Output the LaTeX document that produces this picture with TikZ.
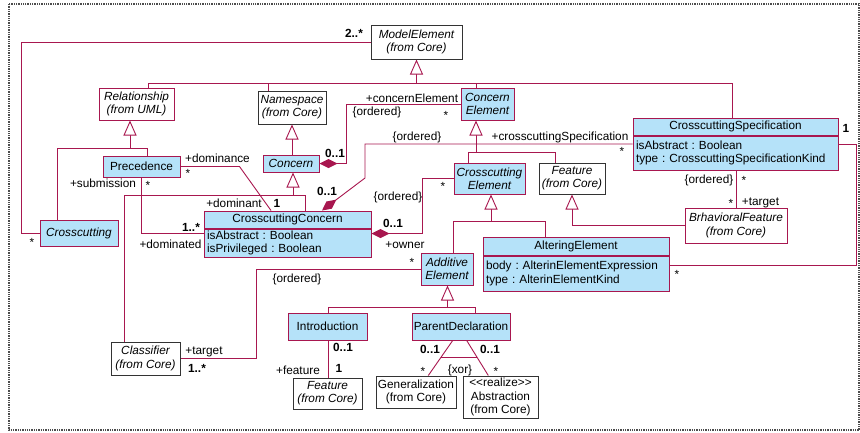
\documentclass[tikz,border=0pt]{standalone}
\usepackage{fontspec}
\setmainfont{Liberation Sans}
\usetikzlibrary{arrows.meta,positioning,calc}
\definecolor{crim}{HTML}{A8174F}
\definecolor{clsblue}{HTML}{B5E2F9}
\definecolor{coreline}{HTML}{333333}
\newcommand{\umlfont}{\fontsize{11.8}{13.2}\selectfont\frenchspacing}

\begin{document}
\begin{tikzpicture}[x=1pt,y=-1pt,
 ln/.style={crim,line width=0.9pt},
 gen/.style={ln,-{Triangle[open,length=15pt,width=13pt,fill=white]}},
 comp/.style={ln,-{Diamond[length=18pt,width=9pt,fill=crim]}},
 cls/.style={draw=crim,line width=1pt,fill=clsblue,inner sep=0pt,align=center,font=\umlfont},
 abst/.style={cls,font=\umlfont\itshape},
 core/.style={draw=coreline,line width=1pt,fill=white,inner sep=0pt,align=center,font=\umlfont\itshape},
 attrs/.style={cls,anchor=north,align=left,inner xsep=3pt},
 lab/.style={inner sep=0pt,text height=8.5pt,text depth=2.5pt,font=\umlfont,yshift=-1.5pt},
 mult/.style={lab,font=\umlfont\bfseries},
 star/.style={lab,yshift=-2.2pt}]
\useasboundingbox (0,0) rectangle (860,432);
\draw[black!70,densely dotted,line width=1.3pt] (9,4) rectangle (859,430);

% classes
\node[core,minimum width=91pt,minimum height=34pt] (ModelElement) at (416.5,42) {ModelElement\\(from Core)};
\node[core,draw=crim,minimum width=75pt,minimum height=32pt] (Relationship) at (136.5,104) {Relationship\\(from UML)};
\node[core,minimum width=68pt,minimum height=33pt] (Namespace) at (292,107.5) {Namespace\\(from Core)};
\node[abst,minimum width=53pt,minimum height=32pt] (ConcernElement) at (487.5,104) {Concern\\Element};
\node[cls,minimum width=205pt,minimum height=17pt] (CrosscuttingSpec) at (735.5,126.5) {CrosscuttingSpecification};
\node[attrs,text width=199pt,minimum height=34pt] (CrosscuttingSpecAttr) at (CrosscuttingSpec.south) {isAbstract : Boolean\\type : CrosscuttingSpecificationKind};
\node[cls,minimum width=77pt,minimum height=21pt] (Precedence) at (141.5,166.5) {Precedence};
\node[abst,minimum width=56pt,minimum height=17pt] (Concern) at (291,163.5) {Concern};
\node[abst,minimum width=71pt,minimum height=31pt] (CrosscuttingElement) at (489.5,178.5) {Crosscutting\\Element};
\node[core,minimum width=66pt,minimum height=31pt] (FeatureTop) at (572,178.5) {Feature\\(from Core)};
\node[core,draw=crim,minimum width=102pt,minimum height=35pt] (BehavioralFeature) at (736,225.5) {BrhavioralFeature\\(from Core)};
\node[cls,minimum width=167pt,minimum height=17pt] (CrosscuttingConcern) at (287.5,219.5) {CrosscuttingConcern};
\node[attrs,text width=161pt,minimum height=28pt] (CrosscuttingConcernAttr) at (CrosscuttingConcern.south) {isAbstract : Boolean\\isPrivileged : Boolean};
\node[abst,minimum width=78pt,minimum height=26pt] (Crosscutting) at (79,233) {Crosscutting};
\node[abst,minimum width=52pt,minimum height=32pt] (AdditiveElement) at (447,269) {Additive\\Element};
\node[cls,minimum width=186pt,minimum height=18pt] (AlteringElement) at (576,246) {AlteringElement};
\node[attrs,text width=180pt,minimum height=35pt] (AlteringElementAttr) at (AlteringElement.south) {body : AlterinElementExpression\\type : AlterinElementKind};
\node[core,minimum width=69pt,minimum height=33pt] (Classifier) at (145.5,358.5) {Classifier\\(from Core)};
\node[cls,minimum width=79pt,minimum height=27pt] (Introduction) at (327.5,326.5) {Introduction};
\node[cls,minimum width=98pt,minimum height=27pt] (ParentDecl) at (461,326.5) {ParentDeclaration};
\node[core,minimum width=69pt,minimum height=31pt] (FeatureBottom) at (327.5,393.5) {Feature\\(from Core)};
\node[core,font=\umlfont,minimum width=80pt,minimum height=32pt] (Generalization) at (416,392) {Generalization\\(from Core)};
\node[core,font=\umlfont,minimum width=75pt,minimum height=42pt] (Abstraction) at (500.5,397) {<{}<realize>{}>\\Abstraction\\(from Core)};

% generalization trees
\coordinate (meJ) at (416.5,83);
\draw[gen] (meJ) -- (ModelElement);
\draw[ln] ([xshift=11.5pt]Relationship.north) |- (meJ);
\draw[ln] ([xshift=-24pt]Namespace.north) |- (meJ);
\draw[ln] ([xshift=-11.5pt]ConcernElement.north) |- (meJ);
\draw[ln] ([xshift=-3.5pt]CrosscuttingSpec.north) |- (meJ);

\coordinate (relJ) at (130,148);
\draw[gen] (relJ) -- (relJ |- Relationship.south);
\draw[ln] ([xshift=5.5pt]Precedence.north) |- (relJ);
\draw[ln] ([xshift=-22pt]Crosscutting.north) |- (relJ);

\draw[gen] (Concern.north -| Namespace.south) -- (Namespace.south);

\coordinate (conJ) at (293,195);
\draw[gen] (conJ) -- (conJ |- Concern.south);
\draw[ln] ([xshift=17.5pt]CrosscuttingConcern.north) |- (conJ);
\draw[ln] ([xshift=-21.5pt]Classifier.north) |- (conJ);

\coordinate (ceJ) at (476,152);
\draw[gen] (ceJ) -- (ceJ |- ConcernElement.south);
\draw[ln] ([xshift=-21.5pt]CrosscuttingElement.north) |- (ceJ);
\draw[ln] ([xshift=-17pt]FeatureTop.north) |- (ceJ);

\coordinate (xeJ) at (491,221.5);
\draw[gen] (xeJ) -- (xeJ |- CrosscuttingElement.south);
\draw[ln] ([xshift=6pt]AdditiveElement.north) |- (xeJ);
\draw[ln] ([xshift=-31pt]AlteringElement.north) |- (xeJ);

\draw[gen] (BehavioralFeature.west) -| (FeatureTop.south);

\coordinate (aeJ) at (447.5,307);
\draw[gen] (aeJ) -- (aeJ |- AdditiveElement.south);
\draw[ln] ([xshift=1pt]Introduction.north) |- (aeJ);
\draw[ln] ([xshift=14pt]ParentDecl.north) |- (aeJ);

% associations
\coordinate (meCorner) at (21,42);
\draw[ln] (ModelElement.west) -- (meCorner) |- (Crosscutting.west);
\draw[ln] (Precedence.east) -- ++(59,0) -- ([xshift=-16.5pt]CrosscuttingConcern.north);
\draw[ln] (Precedence.south) |- ([yshift=-5pt]CrosscuttingConcernAttr.north west);
\draw[comp] (ConcernElement.west) -| ([xshift=27pt]Concern.east) -- (Concern.east);
\coordinate (csBend) at (365,178);
\draw[comp] ([yshift=9pt]CrosscuttingSpecAttr.west) -| (csBend) -- ([xshift=34.5pt]CrosscuttingConcern.north);
\draw[comp] (CrosscuttingElement.west) -- ++(-31,0) |- ([yshift=-5pt]CrosscuttingConcernAttr.north east);
\draw[ln] ([yshift=9pt]CrosscuttingSpecAttr.east) -- ++(18,0) |- ([yshift=8.5pt]AlteringElementAttr.east);
\draw[ln] (CrosscuttingSpecAttr.south -| BehavioralFeature.north) -- (BehavioralFeature.north);
\draw[ln] (AdditiveElement.west) -- ++(-164,0) |- (Classifier.east);
\draw[ln] ([xshift=1pt]Introduction.south) -- ([xshift=1pt]Introduction.south |- FeatureBottom.north);
\draw[ln] ([xshift=-8.3pt]ParentDecl.south) -- coordinate[pos=0.48] (xorA) ([xshift=12.3pt]Generalization.north);
\draw[ln] ([xshift=5.7pt]ParentDecl.south) -- coordinate[pos=0.48] (xorB) ([xshift=-12.2pt]Abstraction.north);
\draw[ln] (xorA) -- (xorB);

% role names and multiplicities
\node[lab] (dominance) at (217.5,158) {+dominance};
\node[lab] (dominant) at (234,203) {+dominant};
\node[lab] (submission) at (103,183) {+submission};
\node[lab] (dominated) at (170.5,244) {+dominated};
\node[lab] (concernElem) at (412,98) {+concernElement};
\node[lab] (ordA) at (377,111) {\{ordered\}};
\node[lab] (ordB) at (417,136) {\{ordered\}};
\node[lab] (ccSpec) at (560,136) {+crosscuttingSpecification};
\node[lab] (ordC) at (398,196) {\{ordered\}};
\node[lab] (owner) at (405,244) {+owner};
\node[lab] (ordD) at (709,179) {\{ordered\}};
\node[lab] (targetA) at (760.5,201) {+target};
\node[lab] (ordE) at (297,278) {\{ordered\}};
\node[lab] (targetB) at (204,350) {+target};
\node[lab] (feature) at (298,370) {+feature};
\node[lab] (xor) at (460,369) {\{xor\}};
\foreach \n/\x/\y/\t in {mA/354/33/2..*,mB/277/203/1,mC/191/227/1..*,mD/335/153/0..1,mE/327/191/0..1,
 mF/393/223/0..1,mG/846/128/1,mH/197/368/1..*,mI/343/347/0..1,mJ/339/368/1,mK/430/349/0..1,mL/490/349/0..1}
 \node[mult] (\n) at (\x,\y) {\t};
\foreach \n/\x/\y in {sA/32/240,sB/188/171,sC/148/183,sD/446/113,sE/622/149,sF/443/184,sG/677/272,
 sH/744/178,sI/731/201,sJ/412/260,sK/423/369,sL/496/369}
 \node[star] (\n) at (\x,\y) {*};
\end{tikzpicture}
\end{document}
